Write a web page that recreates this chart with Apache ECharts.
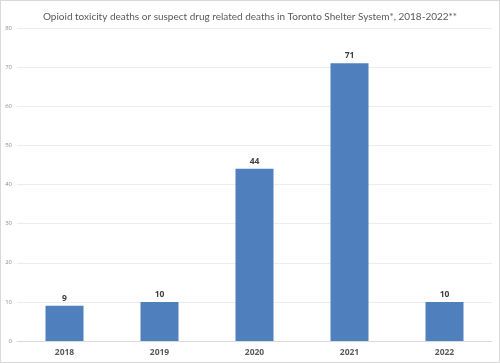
<!DOCTYPE html>
<html><head><meta charset="utf-8">
<script src="https://cdn.jsdelivr.net/npm/echarts@6/dist/echarts.min.js"></script>
<style>html,body{margin:0;padding:0;background:#fff}#c{width:500px;height:363px;box-sizing:border-box;border:1px solid #d9d9d9}</style>
</head><body><div id="c"></div>
<script>
const categories = ['2018','2019','2020','2021','2022'];
const deaths = [9, 10, 44, 71, 10];
const titleText = 'Opioid toxicity deaths or suspect drug related deaths in Toronto Shelter System*, 2018-2022**';

const chart = echarts.init(document.getElementById('c'));
chart.setOption({
  animation: false,
  title: {text: titleText, left: 'center', top: 6,
    textStyle: {fontFamily: 'Lato', fontSize: 10, fontWeight: 'normal', color: '#595959'}},
  grid: {left: 16, right: 7, top: 27, bottom: 21, containLabel: false},
  xAxis: {type: 'category', data: categories,
    axisLine: {lineStyle: {color: '#d9d9d9'}}, axisTick: {show: false},
    axisLabel: {fontFamily: 'Open Sans', fontSize: 8.5, fontWeight: 'bold', color: '#595959', margin: 7}},
  yAxis: {type: 'value', min: 0, max: 80, interval: 10,
    axisLine: {show: false}, axisTick: {show: false},
    splitLine: {lineStyle: {color: '#ececec'}},
    axisLabel: {fontFamily: 'Open Sans', fontSize: 6, color: '#8c8c8c', margin: 5}},
  series: [{type: 'bar', data: deaths, barWidth: '40%',
    itemStyle: {color: '#4f80bd'},
    label: {show: true, position: 'top', distance: 3, fontFamily: 'Open Sans', fontSize: 8.5, fontWeight: 'bold', color: '#404040'}}]
});
</script></body></html>
